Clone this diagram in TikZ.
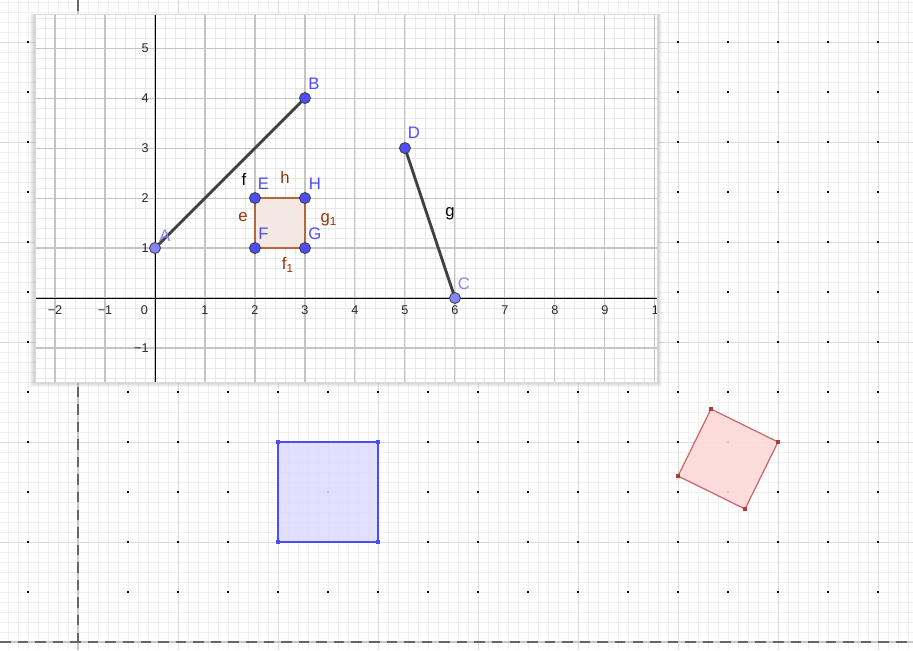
\documentclass[tikz,border=0pt]{standalone}
\usepackage{fontspec}
\setmainfont{Liberation Sans}
\definecolor{bgminor}{HTML}{F0F0F0}
\definecolor{bgmajor}{HTML}{DDDDDD}
\definecolor{inminor}{HTML}{E8E8E8}
\definecolor{inmajor}{HTML}{C4C4C4}
\definecolor{ptblue}{HTML}{4D4DFF}
\definecolor{ptlight}{HTML}{8585FF}
\definecolor{segdark}{HTML}{404040}
\definecolor{brownedge}{HTML}{B5673F}
\definecolor{brownfill}{HTML}{F4E8E2}
\definecolor{brownlbl}{HTML}{993300}
\definecolor{sqblue}{HTML}{4B4BFF}
\definecolor{sqbluefill}{HTML}{DCDCFF}
\definecolor{sqred}{HTML}{CC6666}
\definecolor{sqredfill}{HTML}{FFD9D9}
\definecolor{sqredmark}{HTML}{B03A3A}
\begin{document}
\begin{tikzpicture}[x=0.02cm, y=-0.02cm,
    pt/.style={circle, draw=black!75, fill=ptblue, inner sep=0pt, minimum size=0.22cm, line width=0.5pt},
    ptfree/.style={pt, fill=ptlight},
    lblblue/.style={text=ptblue, font=\fontsize{9.5}{10}\selectfont, inner sep=0pt},
    lbllight/.style={lblblue, text=ptlight},
    lblbrown/.style={text=brownlbl, font=\fontsize{9.5}{10}\selectfont, inner sep=0pt},
    lblblack/.style={text=black, font=\fontsize{9.5}{10}\selectfont, inner sep=0pt},
    ticklbl/.style={font=\fontsize{7.2}{8}\selectfont, text=black!85, inner sep=0pt},
    corner/.style={rectangle, inner sep=0pt, minimum size=0.08cm}]
    \useasboundingbox (0,0) rectangle (913,650);
    \fill[white] (0,0) rectangle (913,650);

    % Background view: fine grid, coarse grid, dots
    \foreach \x in {8,18,...,908} \draw[bgminor, line width=0.5pt] (\x,0) -- (\x,650);
    \foreach \y in {2,12,...,642} \draw[bgminor, line width=0.5pt] (0,\y) -- (913,\y);
    \foreach \x in {178,278,...,878} \draw[bgmajor, line width=0.5pt] (\x,0) -- (\x,650);
    \foreach \y in {42,142,...,542} \draw[bgmajor, line width=0.5pt] (0,\y) -- (913,\y);
    \foreach \x in {28,78,...,878}
        \foreach \y in {42,92,...,592}
            \fill[black] (\x-0.8,\y-0.8) rectangle (\x+0.8,\y+0.8);

    % Background axes (dashed)
    \draw[black!22, line width=1.6pt] (78,0) -- (78,650);
    \draw[black!22, line width=1.6pt] (0,642) -- (913,642);
    \draw[black!60, line width=0.7pt, dash pattern=on 6 off 4] (78,0) -- (78,650);
    \draw[black!60, line width=0.7pt, dash pattern=on 6 off 4] (0,642) -- (913,642);

    % Blue square
    \coordinate (P1) at (278,442);
    \coordinate (P2) at (378,442);
    \coordinate (P3) at (378,542);
    \coordinate (P4) at (278,542);
    \fill[sqbluefill, fill opacity=0.85] (P1) -- (P2) -- (P3) -- (P4) -- cycle;
    \draw[sqblue, line width=0.8pt] (P1) -- (P2) -- (P3) -- (P4) -- cycle;
    \foreach \p in {P1,P2,P3,P4} \node[corner, fill=sqblue] at (\p) {};

    % Red rotated square
    \coordinate (Q1) at (711,409);
    \coordinate (Q2) at (778,442);
    \coordinate (Q3) at (745,509);
    \coordinate (Q4) at (678,476);
    \fill[sqredfill, fill opacity=0.9] (Q1) -- (Q2) -- (Q3) -- (Q4) -- cycle;
    \draw[sqred, line width=0.7pt] (Q1) -- (Q2) -- (Q3) -- (Q4) -- cycle;
    \foreach \p in {Q1,Q2,Q3,Q4} \node[corner, fill=sqredmark] at (\p) {};

    % Window shadow
    \foreach \d in {1,...,5}
        \fill[black, opacity=0.035] (35-\d,14) rectangle (657+\d,382+\d);
    \fill[white] (35,14) rectangle (657,382);

    % Graphics view window
    \begin{scope}[shift={(155,298)}, x=1cm, y=1cm]
        \clip (-2.4,-1.68) rectangle (10.04,5.68);
        \foreach \i in {-12,...,50} \draw[inminor, line width=0.5pt] (\i/5,-1.7) -- (\i/5,5.7);
        \foreach \j in {-9,...,29} \draw[inminor, line width=0.5pt] (-2.4,\j/5) -- (10.1,\j/5);
        \foreach \i in {-2,...,10} \draw[inmajor, line width=0.6pt] (\i,-1.7) -- (\i,5.7);
        \foreach \j in {-1,...,5} \draw[inmajor, line width=0.6pt] (-2.4,\j) -- (10.1,\j);

        % Axes
        \draw[black, line width=0.5pt] (-2.4,0) -- (10.1,0);
        \draw[black, line width=0.5pt] (0,-1.7) -- (0,5.7);

        % Tick labels
        \foreach \x/\t in {-2/−2,-1/−1,1/1,2/2,3/3,4/4,5/5,6/6,7/7,8/8,9/9}
            \node[ticklbl] (tx\x) at (\x,-0.25) {\t};
        \node[ticklbl] (tx10) at (10.08,-0.25) {10};
        \node[ticklbl] (t0) at (-0.21,-0.25) {0};
        \foreach \y/\t in {-1/−1,1/1,2/2,3/3,4/4,5/5}
            \node[ticklbl, anchor=east] (ty\y) at (-0.12,\y) {\t};

        % Square EFGH
        \coordinate (e1) at (2,2);
        \coordinate (f1) at (2,1);
        \coordinate (g1) at (3,1);
        \coordinate (h1) at (3,2);
        \fill[brownfill] (e1) -- (f1) -- (g1) -- (h1) -- cycle;
        \draw[brownedge, line width=1.4pt] (e1) -- (f1) -- (g1) -- (h1) -- cycle;

        % Segments f and g
        \coordinate (a1) at (0,1);
        \coordinate (b1) at (3,4);
        \coordinate (c1) at (6,0);
        \coordinate (d1) at (5,3);
        \draw[segdark, line width=1.6pt] (a1) -- (b1);
        \draw[segdark, line width=1.6pt] (d1) -- (c1);

        % Points
        \node[ptfree] (A) at (a1) {};
        \node[pt] (B) at (b1) {};
        \node[ptfree] (C) at (c1) {};
        \node[pt] (D) at (d1) {};
        \node[pt] (E) at (e1) {};
        \node[pt] (F) at (f1) {};
        \node[pt] (G) at (g1) {};
        \node[pt] (H) at (h1) {};

        % Point labels
        \node[lbllight] (labA) at ([shift={(0.2,0.25)}]a1) {A};
        \node[lblblue] (labB) at ([shift={(0.18,0.28)}]b1) {B};
        \node[lbllight] (labC) at ([shift={(0.18,0.28)}]c1) {C};
        \node[lblblue] (labD) at ([shift={(0.18,0.3)}]d1) {D};
        \node[lblblue] (labE) at ([shift={(0.17,0.29)}]e1) {E};
        \node[lblblue] (labH) at ([shift={(0.2,0.29)}]h1) {H};
        \node[lblblue] (labF) at ([shift={(0.17,0.29)}]f1) {F};
        \node[lblblue] (labG) at ([shift={(0.2,0.28)}]g1) {G};

        % Object labels
        \node[lblblack] (labf) at (1.78,2.38) {f};
        \node[lblblack] (labg) at (5.9,1.68) {g};
        \node[lblbrown] (labh) at (2.6,2.42) {h};
        \node[lblbrown] (labe) at (1.76,1.62) {e};
        \node[lblbrown] (labgg) at (3.48,1.56) {g\textsubscript{1}};
        \node[lblbrown] (labff) at (2.66,0.66) {f\textsubscript{1}};
    \end{scope}
    \draw[black!15, line width=0.4pt] (35,14) rectangle (657,382);
\end{tikzpicture}
\end{document}
